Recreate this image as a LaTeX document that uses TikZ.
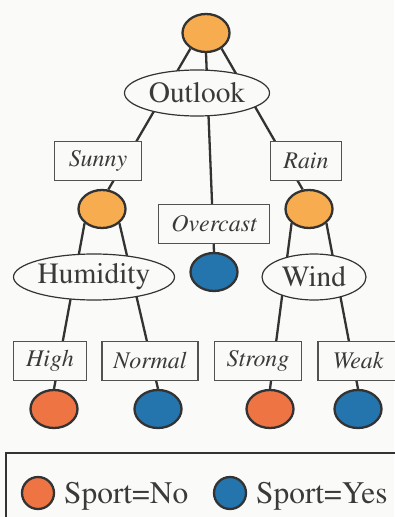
\documentclass[tikz,border=0pt]{standalone}
\usepackage[T1]{fontenc}
\usepackage{mathptmx}
\usetikzlibrary{shapes.geometric}
\definecolor{splitorange}{HTML}{F7AC50}
\definecolor{leafred}{HTML}{EF7444}
\definecolor{leafblue}{HTML}{2474AD}
\definecolor{edgegray}{HTML}{333333}
\definecolor{textgray}{HTML}{3A3A3A}
\definecolor{paper}{HTML}{FAFAF8}

\begin{document}
\begin{tikzpicture}[x=1bp,y=-1bp,
  split/.style={ellipse,draw=edgegray,line width=2.3bp,fill=splitorange,
    minimum width=47bp,minimum height=38bp,inner sep=0pt},
  leafno/.style={split,fill=leafred},
  leafyes/.style={split,fill=leafblue},
  attr/.style={ellipse,draw=edgegray,line width=1.2bp,fill=paper,inner sep=0pt,
    minimum height=46bp,text=textgray,font=\fontsize{29.5}{30}\selectfont},
  valbox/.style={rectangle,draw=edgegray!85,line width=1.2bp,fill=paper,inner sep=0pt,
    minimum height=39bp,text=textgray,font=\fontsize{24}{26}\selectfont\itshape},
  edge/.style={draw=edgegray,line width=2.3bp},
  keytext/.style={anchor=base west,inner sep=0pt,text=textgray,font=\fontsize{31.5}{32}\selectfont}]

\fill[paper] (0,0) rectangle (394,517);
\useasboundingbox (0,0) rectangle (394,517);

% split and leaf nodes
\node[split] (root) at (206,33) {};
\node[split] (humsplit) at (102,209) {};
\node[split] (windsplit) at (309,209) {};
\node[leafyes] (overleaf) at (214,272) {};
\node[leafno] (highleaf) at (54,409) {};
\node[leafyes] (normalleaf) at (158,409) {};
\node[leafno] (strongleaf) at (270,409) {};
\node[leafyes] (weakleaf) at (358,409) {};

% edges, drawn under the labels
\draw[edge] (root.225) -- (humsplit.72);
\draw[edge] (root.south) -- (overleaf.north);
\draw[edge] (root.315) -- (windsplit.108);
\draw[edge] (humsplit.south west) -- (highleaf.north);
\draw[edge] (humsplit.south east) -- (normalleaf.north);
\draw[edge] (windsplit.south west) -- (strongleaf.north);
\draw[edge] (windsplit.south east) -- (weakleaf.north);

% attributes
\node[attr,minimum width=145bp] (outlook) at (197,93) {Outlook};
\node[attr,minimum width=161bp] (humidity) at (94,277) {Humidity};
\node[attr,minimum width=104bp] (wind) at (314,277) {Wind};

% values
\node[valbox,minimum width=87bp] (sunny) at (98,161) {Sunny};
\node[valbox,minimum width=111bp] (overcast) at (214,224) {Overcast};
\node[valbox,minimum width=71bp] (rain) at (306,161) {Rain};
\node[valbox,minimum width=73bp] (high) at (50,361) {High};
\node[valbox,minimum width=96bp] (normal) at (150,361) {Normal};
\node[valbox,minimum width=87bp] (strong) at (258,361) {Strong};
\node[valbox,minimum width=80bp] (weak) at (358,361) {Weak};

% legend
\draw[edgegray,line width=1.5bp] (6,453) rectangle (420,540);
\node[leafno,minimum width=32bp,minimum height=32bp] (keyno) at (38,493) {};
\node[keytext] (keynotext) at (64,503) {Sport=No};
\node[leafyes,minimum width=32bp,minimum height=32bp] (keyyes) at (230,493) {};
\node[keytext] (keyyestext) at (256,503) {Sport=Yes};
\end{tikzpicture}
\end{document}
